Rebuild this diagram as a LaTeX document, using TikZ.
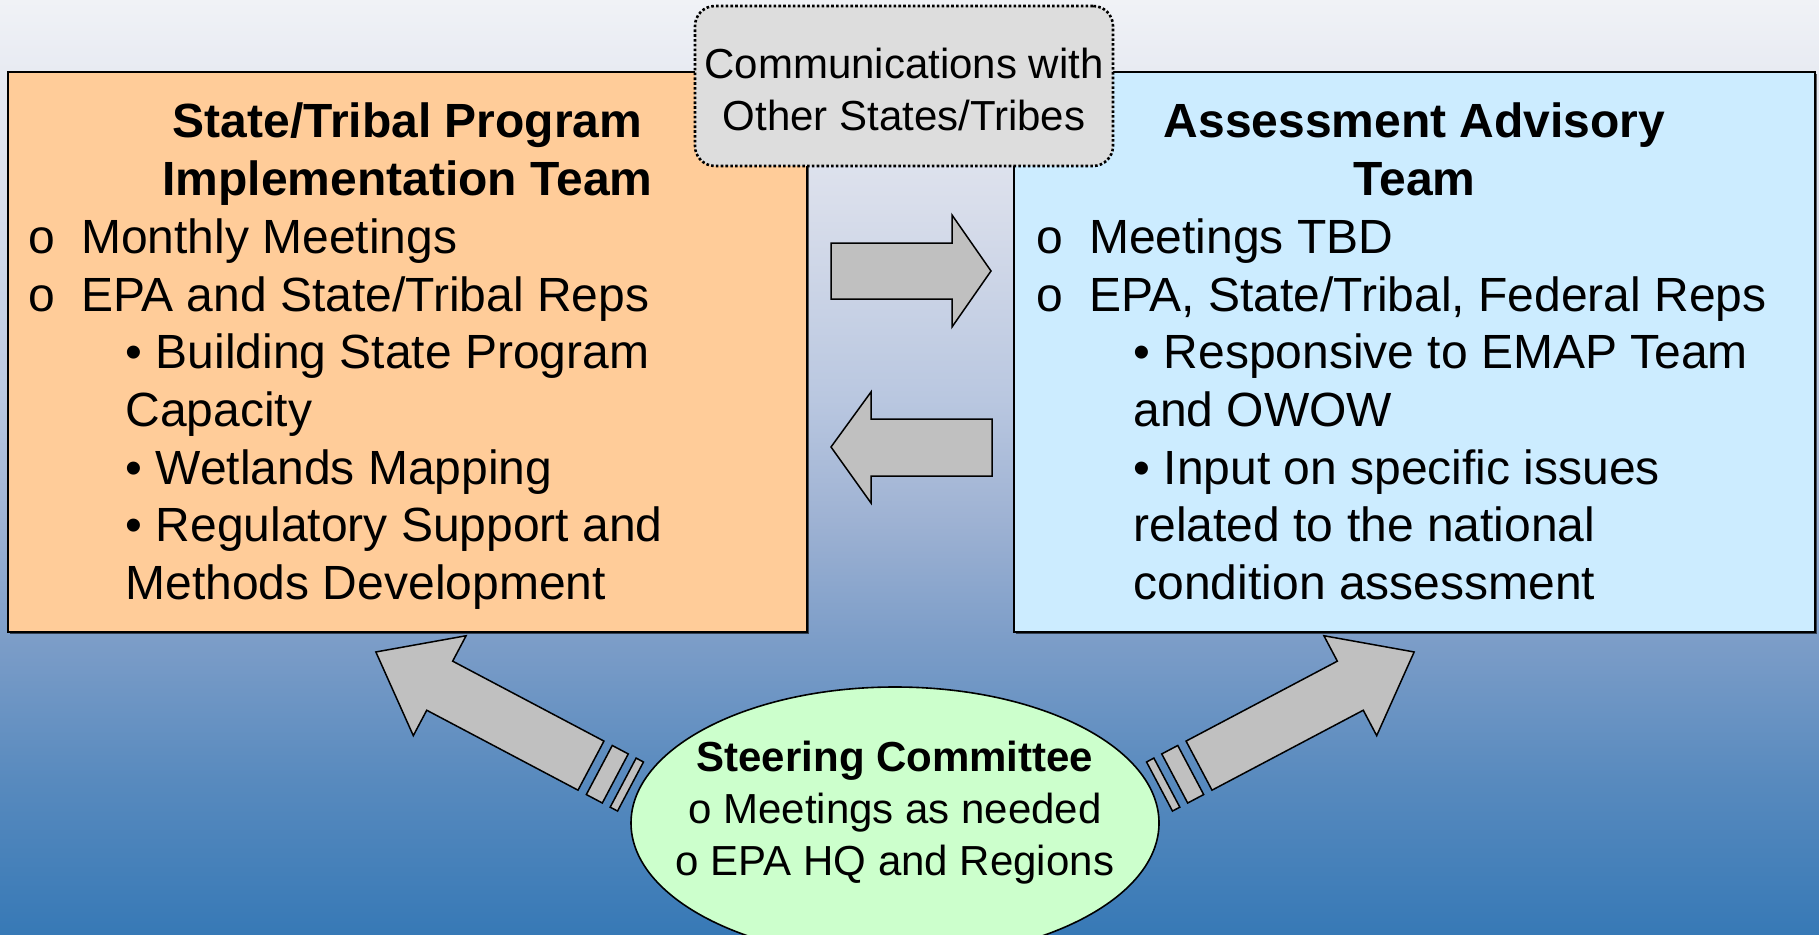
\documentclass[tikz,border=0pt]{standalone}
\usepackage{fontspec}
\setmainfont{Liberation Sans}
\usetikzlibrary{positioning,shapes.geometric,shadows}

\definecolor{peach}{RGB}{255,204,153}
\definecolor{skyblue}{RGB}{204,236,255}
\definecolor{mint}{RGB}{204,255,204}
\definecolor{commgray}{RGB}{221,221,221}
\definecolor{arrowgray}{RGB}{192,192,192}
\definecolor{bgA}{RGB}{55,121,182}
\definecolor{bgB}{RGB}{88,138,190}
\definecolor{bgC}{RGB}{124,157,200}
\definecolor{bgD}{RGB}{158,178,211}
\definecolor{bgE}{RGB}{185,199,224}
\definecolor{bgF}{RGB}{217,222,235}
\definecolor{bgG}{RGB}{240,242,246}

% slide background, bottom to top (25bp..75bp fills the path)
\pgfdeclareverticalshading{slidebg}{100bp}{color(0bp)=(bgA); color(25bp)=(bgA);
  color(33.24bp)=(bgB); color(40.74bp)=(bgC); color(47.16bp)=(bgD);
  color(53.59bp)=(bgE); color(64.29bp)=(bgF); color(75bp)=(bgG); color(100bp)=(bgG)}

\newcommand\bodyfont{\fontsize{24}{28.8}\selectfont}
\newcommand\smallfont{\fontsize{21}{26}\selectfont}
\newcommand\mk[1]{\makebox[26.25pt][l]{#1}}
\newcommand\ind{\hspace*{48.5pt}}

\tikzset{
  teambox/.style={draw, line width=0.8pt, inner sep=0pt,
    drop shadow={shadow xshift=1pt, shadow yshift=-1pt, fill=black, opacity=0.6}},
  teamtitle/.style={inner sep=0pt, align=center, font=\bodyfont\bfseries},
  teamlist/.style={inner sep=0pt, align=left, font=\bodyfont},
  arrowshape/.style={draw, fill=arrowgray, line width=0.75pt, line join=miter},
  pics/striparrow/.style={code={
    \draw[arrowshape] (0,-27.75) rectangle (8.3,27.75);
    \draw[arrowshape] (17.2,-27.75) rectangle (35.3,27.75);
    \draw[arrowshape] (44.7,-27.75) -- (215.8,-27.75) -- (215.8,-56.5) -- (288,0)
      -- (215.8,56.5) -- (215.8,27.75) -- (44.7,27.75) -- cycle;
  }}
}

\begin{document}
\begin{tikzpicture}[x=0.5pt, y=0.5pt]
  \useasboundingbox (0,0) rectangle (1819,934);
  % background
  \fill[shading=slidebg] (0,0) rectangle (1819,934);

  % the two team boxes
  \node[teambox, fill=peach, minimum width=399.5pt, minimum height=280pt] (stbox) at (407.5,582) {};
  \node[teambox, fill=skyblue, minimum width=400.5pt, minimum height=280pt] (aabox) at (1414.5,582) {};

  % left box text
  \node[teamtitle, below=13pt of stbox.north] (sttitle) {\rule{0pt}{20pt}State/Tribal Program\\Implementation Team};
  \node[teamlist, below right=71pt and 10.5pt of stbox.north west] (stlist) {\rule{0pt}{20pt}\mk{o}Monthly Meetings\\
    \mk{o}EPA and State/Tribal Reps\\
    \ind • Building State Program\\
    \ind Capacity\\
    \ind • Wetlands Mapping\\
    \ind • Regulatory Support and\\
    \ind Methods Development};

  % right box text
  \node[teamtitle, below=13pt of aabox.north] (aatitle) {\rule{0pt}{20pt}Assessment Advisory\\Team};
  \node[teamlist, below right=71pt and 11.5pt of aabox.north west] (aalist) {\rule{0pt}{20pt}\mk{o}Meetings TBD\\
    \mk{o}EPA, State/Tribal, Federal Reps\\
    \ind • Responsive to EMAP Team\\
    \ind and OWOW\\
    \ind • Input on specific issues\\
    \ind related to the national\\
    \ind condition assessment};

  % communications box on top
  \node[draw, fill=commgray, line width=1.3pt, dash pattern=on 1.3pt off 1.1pt, rounded corners=10pt,
    minimum width=209pt, minimum height=80pt, inner sep=0pt, align=center, font=\smallfont]
    (comm) at (904,848) {\rule{0pt}{19pt}Communications with\\Other States/Tribes};

  % block arrows between the boxes
  \draw[arrowshape] (831,635) -- (952,635) -- (952,607) -- (991,663) -- (952,719) -- (952,691) -- (831,691) -- cycle;
  \draw[arrowshape] (831,487) -- (871,542) -- (871,515) -- (992,515) -- (992,458) -- (871,458) -- (871,431) -- cycle;

  % striped arrows from the committee
  \pic[rotate=152.15] at (630.5,147.5) {striparrow};
  \pic[rotate=27.85] at (1159.5,147.5) {striparrow};

  % steering committee
  \node[ellipse, draw, fill=mint, line width=0.8pt, minimum width=264pt, minimum height=136pt, inner sep=0pt]
    (steer) at (895,111) {};
  \node[inner sep=0pt, align=center, font=\smallfont, below=24.5pt of steer.north] (steertxt)
    {\rule{0pt}{18pt}\textbf{Steering Committee}\\o Meetings as needed\\o EPA HQ and Regions};
\end{tikzpicture}
\end{document}
